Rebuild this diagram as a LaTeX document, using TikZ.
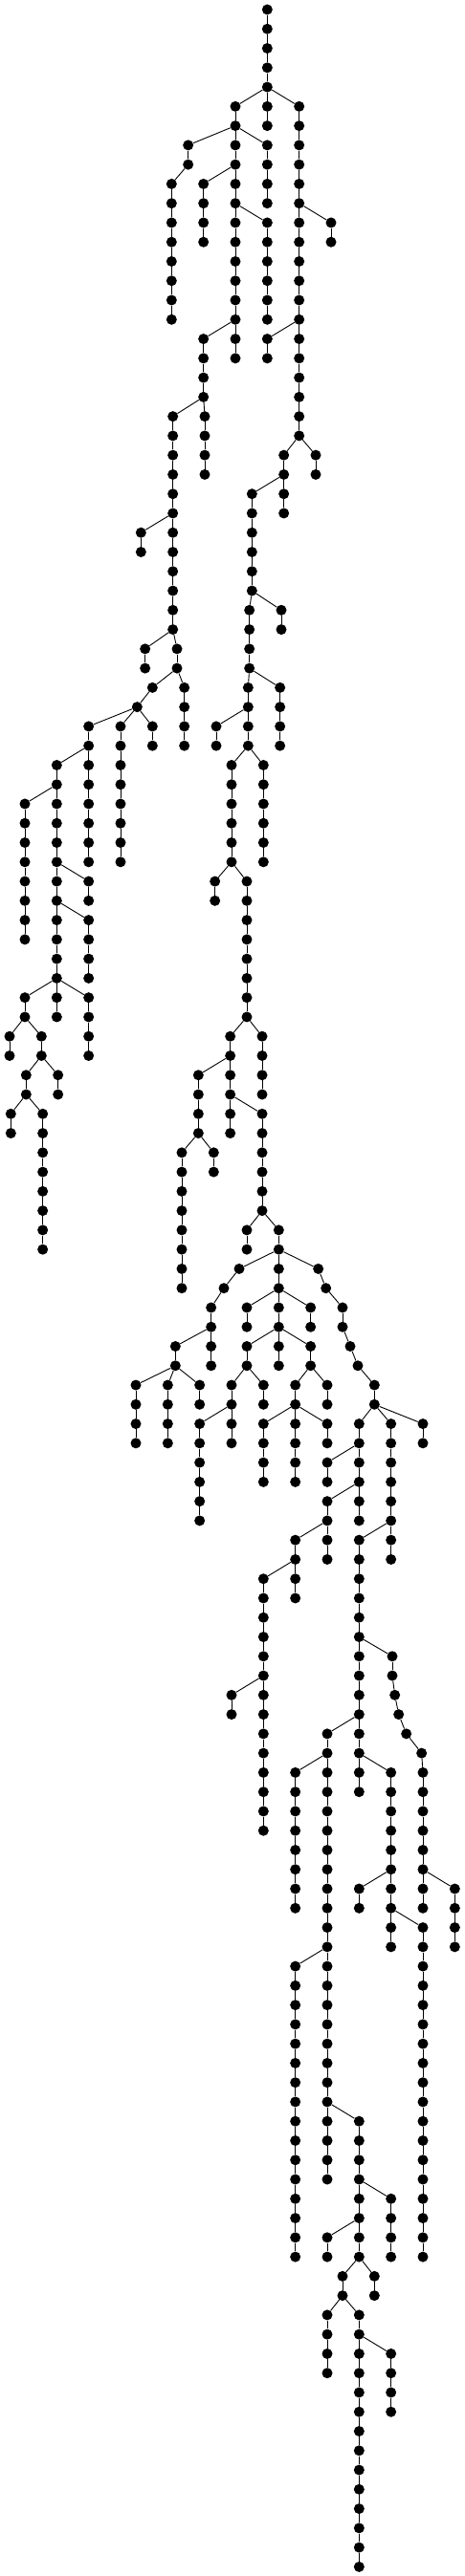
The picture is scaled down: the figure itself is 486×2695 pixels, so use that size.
\documentclass[tikz,border=0pt]{standalone}
\tikzset{
  dot/.style={circle, fill=black, draw=none, inner sep=0pt, minimum size=11pt},
  link/.style={line width=0.9pt, draw=black}
}
\def\chains{838/5/6/v838r4,
738/5/6/v838r4,
938/5/22/v838r4,
1038/11/12/v938r10,
838/17/18/v938r16,
890/23/26/v938r22,
990/23/24/v938r22,
790/25/30/v890r24,
782/31/34/v790r30,
882/31/32/v790r30,
778/35/38/v782r34,
878/35/38/v782r34,
678/37/38/v778r36,
726/39/44/v778r38,
826/39/44/v778r38,
674/45/46/v726r44,
774/45/52/v726r44,
722/53/58/v774r52,
822/53/56/v774r52,
622/55/58/v722r54,
822/57/62/v722r56,
570/59/66/v622r58,
670/59/60/v622r58,
774/63/64/v822r62,
874/63/70/v822r62,
750/65/65/v874r64,
702/66/66/v750r65,
662/67/70/v702r66,
998/65/65/v874r64,
1022/66/66/v998r65,
1074/67/68/v1022r66,
1098/69/69/v1074r68,
1122/70/70/v1098r69,
1174/71/72/v1122r70,
774/67/68/v874r66,
974/67/68/v874r66,
550/69/70/v662r68,
774/69/70/v874r68,
974/69/70/v874r68,
426/71/74/v550r70,
526/71/74/v550r70,
626/71/72/v550r70,
726/71/74/v774r70,
826/71/72/v774r70,
926/71/72/v974r70,
1026/71/72/v974r70,
626/73/78/v726r72,
826/73/76/v926r72,
926/73/76/v926r72,
1026/73/74/v926r72,
1126/73/78/v1174r72,
1226/73/80/v1174r72,
1326/73/74/v1174r72,
1026/75/76/v1126r74,
1026/77/80/v1126r76,
926/79/82/v1026r78,
826/81/94/v926r80,
726/87/88/v826r86,
1126/79/92/v1226r78,
1230/85/86/v1126r84,
1238/87/87/v1230r86,
1250/88/88/v1238r87,
1274/89/89/v1250r88,
1322/90/90/v1274r89,
1326/91/98/v1322r90,
1026/89/112/v1126r88,
926/91/98/v1026r90,
1226/91/100/v1126r90,
1126/97/98/v1226r96,
1426/97/100/v1326r96,
1326/99/116/v1226r98,
926/101/116/v1026r100,
1126/109/116/v1026r108,
1226/113/116/v1126r112,
1026/115/116/v1126r114,
1074/117/118/v1126r116,
1174/117/118/v1126r116,
1026/119/122/v1074r118,
1126/119/132/v1074r118,
1226/121/124/v1126r120,
590/7/8/v738r6,
538/9/16/v590r8,
738/7/18/v738r6,
838/7/10/v738r6,
638/9/12/v738r8,
838/11/16/v738r10,
638/17/20/v738r16,
542/21/32/v638r20,
642/21/24/v638r20,
442/27/28/v542r26,
455/33/34/v542r32,
555/33/34/v542r32,
478/35/35/v555r34,
430/36/36/v478r35,
578/35/38/v555r34,
278/37/44/v430r36,
378/37/44/v430r36,
478/37/38/v430r36,
178/39/52/v278r38,
78/41/48/v178r40,
278/45/46/v178r44,
278/47/50/v178r46,
78/51/52/v178r50,
278/51/54/v178r50,
30/53/54/v78r52,
130/53/54/v78r52,
82/55/56/v130r54,
182/55/56/v130r54,
34/57/58/v82r56,
134/57/64/v82r56}
\begin{document}
\begin{tikzpicture}[x=1pt,y=1pt]
\useasboundingbox (0,0) rectangle (486,-2695);
% nodes
\foreach \rr in {0,...,4} {\node[dot] (v838r\rr) at ({838/3},{-(10+20.268*\rr)}) {};}
\foreach \cx/\ra/\rb/\pp in \chains {
  \foreach \rr in {\ra,...,\rb} {\node[dot] (v\cx r\rr) at ({\cx/3},{-(10+20.268*\rr)}) {};}
}
% connectors
\foreach \rr in {1,...,4} {\pgfmathtruncatemacro\q{\rr-1}\draw[link] (v838r\rr) -- (v838r\q);}
\foreach \cx/\ra/\rb/\pp in \chains {
  \draw[link] (v\cx r\ra) -- (\pp);
  \ifnum\rb>\ra\relax
    \pgfmathtruncatemacro\rs{\ra+1}
    \foreach \rr in {\rs,...,\rb} {\pgfmathtruncatemacro\q{\rr-1}\draw[link] (v\cx r\rr) -- (v\cx r\q);}
  \fi
}
\end{tikzpicture}
\end{document}
